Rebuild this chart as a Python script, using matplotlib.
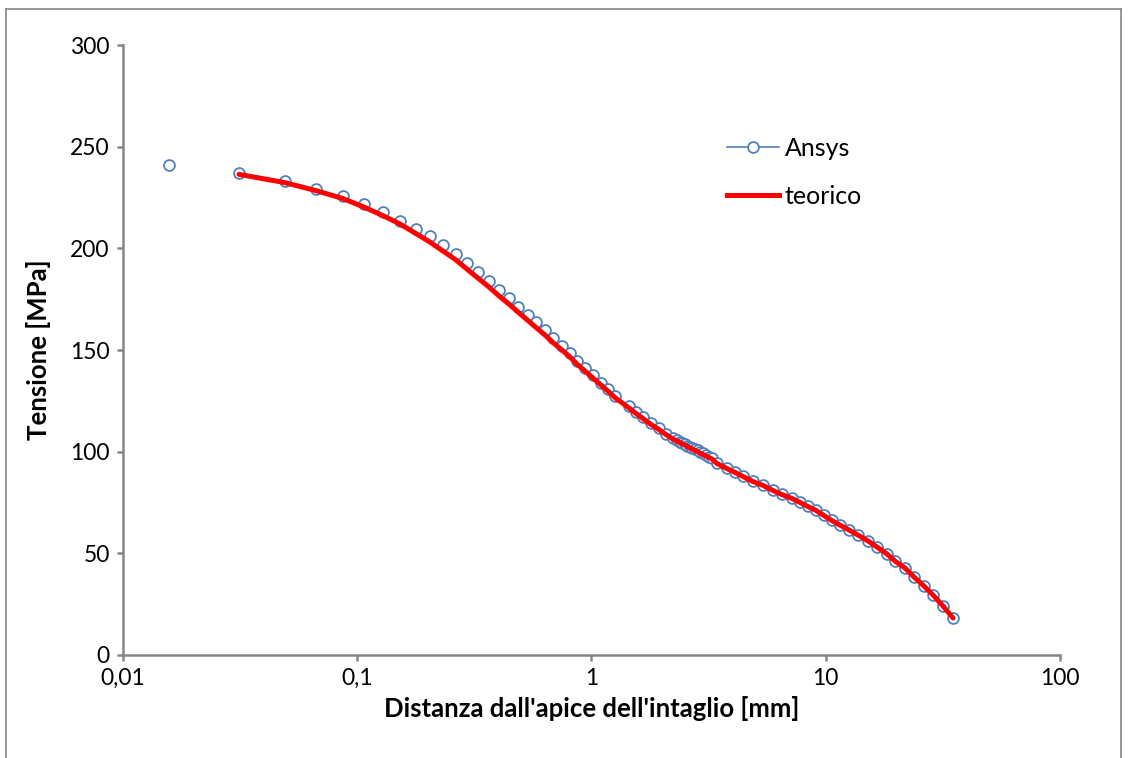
import matplotlib.pyplot as plt
from matplotlib.lines import Line2D
from matplotlib.ticker import FixedLocator, NullLocator

plt.rcParams['font.family'] = ['Lato', 'DejaVu Sans']

# Ansys: distanza [mm] e tensione [MPa]
ansys_x = [0.0157, 0.0313, 0.0492, 0.0667, 0.0869, 0.1069, 0.1288, 0.1522, 0.1781,
           0.2044, 0.2323, 0.2640, 0.2941, 0.3277, 0.3651, 0.4029, 0.4445, 0.4857,
           0.5357, 0.5796, 0.6331, 0.6848, 0.7483, 0.8094, 0.8670, 0.9381, 1.015,
           1.098, 1.176, 1.260, 1.446, 1.549, 1.659, 1.795, 1.941, 2.080, 2.228,
           2.317, 2.387, 2.446, 2.508, 2.569, 2.633, 2.699, 2.766, 2.835, 2.905,
           2.992, 3.082, 3.174, 3.269, 3.434, 3.788, 4.100, 4.435, 4.892, 5.398,
           5.955, 6.505, 7.176, 7.763, 8.401, 9.085, 9.829, 10.63, 11.50, 12.57,
           13.73, 15.15, 16.55, 18.26, 19.76, 21.80, 23.81, 26.27, 28.70, 31.67, 34.94]
ansys_y = [241.0, 237.0, 233.1, 229.2, 225.7, 221.8, 217.9, 213.4, 209.5,
           206.1, 201.6, 197.2, 192.8, 188.4, 183.9, 179.5, 175.6, 171.1,
           167.2, 163.8, 159.8, 155.9, 152.0, 148.5, 144.6, 141.1, 137.7,
           133.8, 130.8, 127.4, 122.5, 119.5, 117.0, 114.1, 111.6, 108.7, 106.7,
           105.7, 105.0, 104.3, 103.8, 103.0, 102.3, 101.8, 101.1, 100.6, 99.8,
           99.1, 98.4, 97.4, 96.7, 94.4, 92.0, 90.0, 88.0, 85.6, 83.6,
           81.1, 79.2, 77.2, 75.2, 73.3, 71.3, 68.9, 66.4, 63.9, 61.5,
           59.0, 56.1, 53.1, 49.7, 46.2, 42.8, 38.4, 33.9, 29.5, 24.1, 18.2]

# teorico: stessi nodi a partire dal secondo
teorico_x = ansys_x[1:]
teorico_y = [236.4, 232.3, 228.4, 224.5, 220.3, 216.1, 212.0, 207.3,
             203.1, 198.7, 194.3, 189.8, 185.4, 181.0, 176.6, 172.6, 168.7,
             164.5, 161.1, 157.4, 153.7, 150.0, 146.6, 143.1, 139.7, 136.2,
             132.8, 129.8, 126.6, 121.5, 118.8, 116.3, 113.4, 110.9, 108.4, 106.2,
             105.2, 104.5, 103.8, 103.3, 102.5, 101.8, 101.3, 100.6, 100.1, 99.3,
             98.6, 97.9, 97.1, 96.4, 94.2, 91.7, 89.8, 87.8, 85.3, 83.4,
             80.9, 78.9, 77.0, 75.0, 73.0, 71.1, 68.6, 66.1, 63.9, 61.5,
             59.0, 56.1, 53.1, 49.7, 46.2, 42.8, 38.4, 33.9, 29.5, 24.1, 18.2]

x_ticks = [0.01, 0.1, 1, 10, 100]
x_ticklabels = ['0,01', '0,1', '1', '10', '100']
y_ticks = [0, 50, 100, 150, 200, 250, 300]

blue = '#4F81BD'
gray = '#868686'

fig = plt.figure(figsize=(11.29, 7.58), dpi=100)
ax = fig.add_axes([0.1089, 0.1359, 0.8300, 0.8047])

ax.plot(ansys_x, ansys_y, linestyle='none', marker='o', markersize=7.8,
        markerfacecolor='white', markeredgecolor=blue, markeredgewidth=1.3)
ax.plot(teorico_x, teorico_y, color='#FF0000', linewidth=3.6,
        solid_capstyle='round')

ax.set_xscale('log')
ax.set_xlim(0.01, 100)
ax.set_ylim(0, 300)
ax.xaxis.set_major_locator(FixedLocator(x_ticks))
ax.xaxis.set_minor_locator(NullLocator())
ax.set_xticklabels(x_ticklabels)
ax.set_yticks(y_ticks)

for side in ['top', 'right']:
    ax.spines[side].set_visible(False)
for side in ['left', 'bottom']:
    ax.spines[side].set_color(gray)
    ax.spines[side].set_linewidth(1.8)
ax.tick_params(axis='both', direction='out', length=4.5, width=1.8, color=gray,
               labelsize=16.5, labelcolor='black', pad=5)

ax.set_xlabel("Distanza dall'apice dell'intaglio [mm]", fontsize=18.5,
              fontweight='bold', labelpad=5)
ax.set_ylabel('Tensione [MPa]', fontsize=18.5, fontweight='bold', labelpad=14)

handles = [
    Line2D([], [], color=blue, linewidth=1.2, marker='o', markersize=7.8,
           markerfacecolor='white', markeredgecolor=blue, markeredgewidth=1.3),
    Line2D([], [], color='#FF0000', linewidth=3.6),
]
ax.legend(handles, ['Ansys', 'teorico'], loc='upper left',
          bbox_to_anchor=(0.6446, 0.850), frameon=False, fontsize=18,
          borderpad=0, borderaxespad=0,
          handlelength=2.1, handletextpad=0.2, labelspacing=1.0)

# cornice grigia del grafico
border = dict(color=gray, linewidth=1.2, transform=fig.transFigure)
fig.add_artist(Line2D([6 / 1129, 6 / 1129], [0, 1 - 9 / 758], **border))
fig.add_artist(Line2D([6 / 1129, 1121 / 1129], [1 - 9 / 758, 1 - 9 / 758], **border))
fig.add_artist(Line2D([1121 / 1129, 1121 / 1129], [0, 1 - 9 / 758], **border))

fig.savefig('out.png', dpi=100)
